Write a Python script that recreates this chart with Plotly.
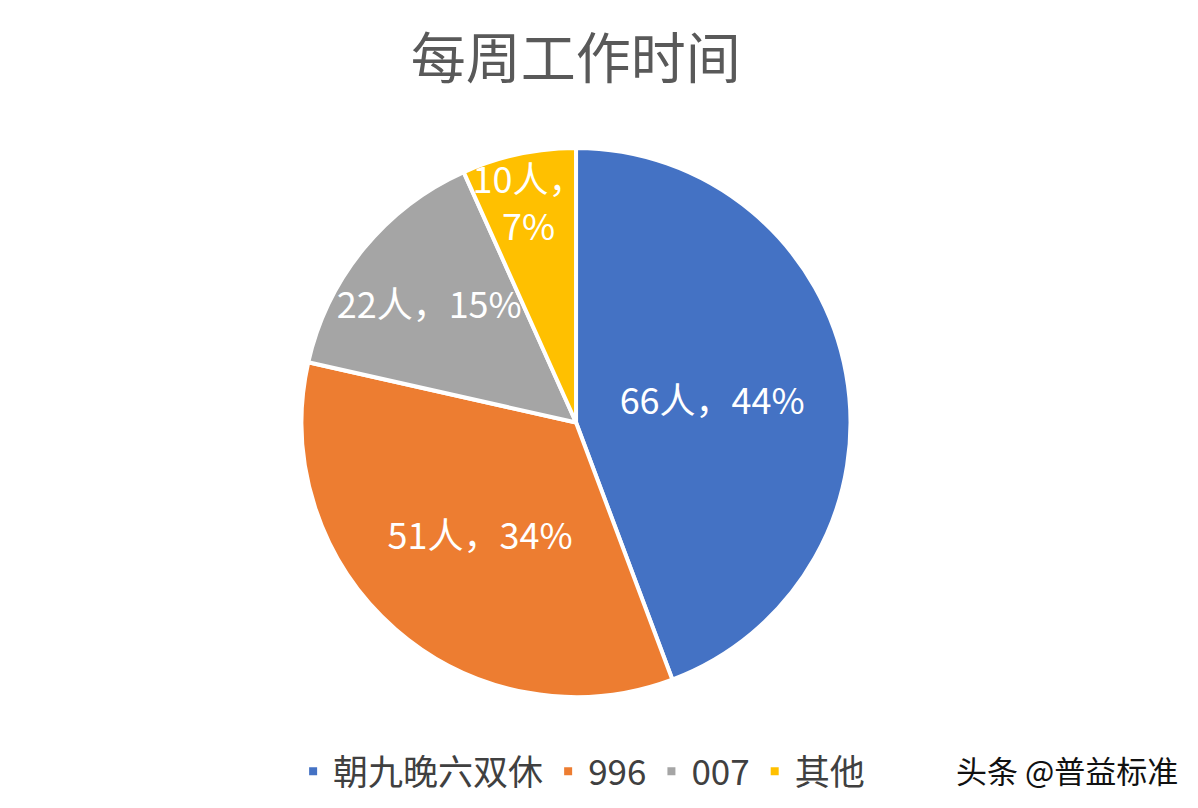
import plotly.graph_objects as go

# ==========================
# DATA
# ==========================

categories = ["朝九晚六双休", "996", "007", "其他"]
people = [66, 51, 22, 10]
percent_labels = ["44%", "34%", "15%", "7%"]
colors = ["#4472C4", "#ED7D31", "#A5A5A5", "#FFC000"]

slice_text = []
for n, p in zip(people, percent_labels):
    if n < 15:
        slice_text.append(f"{n}人，<br>{p}")
    else:
        slice_text.append(f"{n}人，{p}")

FONT = "Noto Sans CJK SC"

# ==========================
# PIE
# ==========================

fig = go.Figure()

fig.add_trace(
    go.Pie(
        labels=categories,
        values=people,
        text=slice_text,
        textinfo="text",
        textposition="inside",
        insidetextorientation="horizontal",
        textfont=dict(family=FONT, size=36, color="white"),
        marker=dict(colors=colors, line=dict(color="white", width=4)),
        sort=False,
        direction="clockwise",
        rotation=0,
        hoverinfo="label+value+percent",
        domain=dict(x=[0.2446, 0.7037], y=[0.1473, 0.8267]),
    )
)

# ==========================
# STYLE
# ==========================

fig.update_layout(
    title=dict(
        text="每周工作时间",
        x=0.474,
        xanchor="center",
        y=0.937,
        yanchor="middle",
        font=dict(family=FONT, size=55, color="#595959"),
    ),
    width=1198,
    height=808,
    paper_bgcolor="white",
    plot_bgcolor="white",
    font=dict(family=FONT, color="#404040"),
    uniformtext=dict(minsize=36, mode="show"),
    showlegend=True,
    legend=dict(
        orientation="h",
        x=0.238,
        xanchor="left",
        y=0.055,
        yanchor="middle",
        font=dict(family=FONT, size=35, color="#404040"),
        itemwidth=30,
        traceorder="normal",
    ),
    margin=dict(t=0, l=0, r=0, b=0),
)

# watermark
fig.add_annotation(
    text="头条 @普益标准",
    x=0.978,
    xref="paper",
    xanchor="right",
    y=0.057,
    yref="paper",
    yanchor="middle",
    showarrow=False,
    font=dict(family=FONT, size=31, color="#111111"),
)

fig.write_html("out.html")
